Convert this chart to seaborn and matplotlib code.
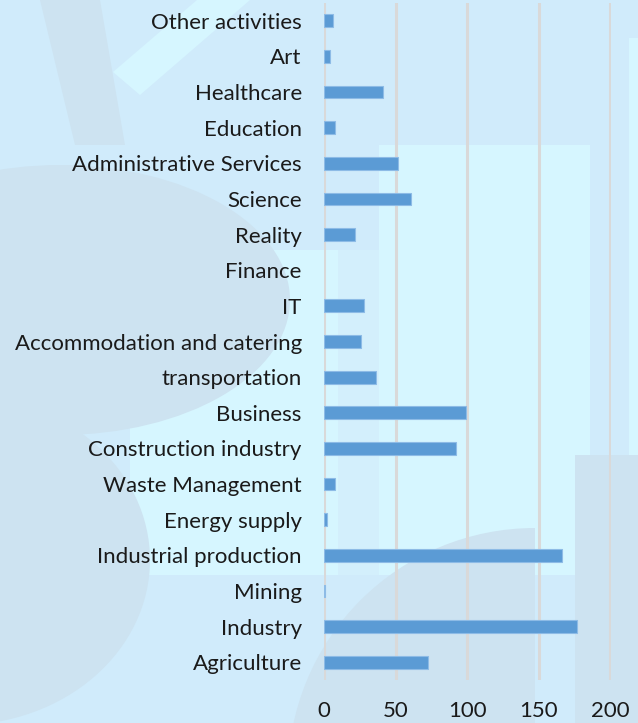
import matplotlib
matplotlib.use("Agg")
import matplotlib.pyplot as plt
import matplotlib.patches as mpatches
import seaborn as sns
import pandas as pd

# Sector values, listed top to bottom as drawn
sectors = [
    "Other activities", "Art", "Healthcare", "Education",
    "Administrative Services", "Science", "Reality", "Finance", "IT",
    "Accommodation and catering", "transportation", "Business",
    "Construction industry", "Waste Management", "Energy supply",
    "Industrial production", "Mining", "Industry", "Agriculture",
]
counts = [6, 4, 41, 8, 52, 61, 22, 0, 28, 26, 36, 99, 92, 8, 2, 166, 0.5, 177, 73]
x_ticks = [0, 50, 100, 150, 200]

df = pd.DataFrame({"sector": sectors, "count": counts})

sns.set_theme(style="white")
plt.rcParams["font.family"] = ["Lato", "DejaVu Sans"]

W, H = 638, 723
fig = plt.figure(figsize=(W / 100, H / 100), dpi=100)
fig.patch.set_facecolor("#d0ebfb")

# Decorative backdrop drawn in pixel space
bg = fig.add_axes([0, 0, 1, 1], zorder=0)
bg.set_xlim(0, W)
bg.set_ylim(H, 0)
bg.axis("off")
light = "#d6f6ff"
dark = "#cde3f1"
bg.add_patch(mpatches.Polygon([(379, 145), (590, 145), (590, 455), (575, 455), (575, 575),
                               (130, 575), (130, 250), (379, 250)],
                              closed=True, color=light, lw=0))
bg.add_patch(mpatches.Polygon([(113, 72), (197, 0), (250, 0), (140, 95)],
                              closed=True, color=light, lw=0))
bg.add_patch(mpatches.Rectangle((629, 38), 9, 530, color=light, lw=0))
bg.add_patch(mpatches.Rectangle((338, 250), 41, 325, color="#d3effc", lw=0))
bg.add_patch(mpatches.Ellipse((60, 300), 460, 270, color=dark, lw=0))
bg.add_patch(mpatches.Ellipse((-40, 560), 380, 330, color=dark, lw=0))
bg.add_patch(mpatches.Polygon([(40, 0), (100, 0), (125, 145), (75, 145)],
                              closed=True, color=dark, lw=0))
circ = mpatches.Circle((535, 775), 247, color=dark, lw=0)
bg.add_patch(circ)
circ.set_clip_path(mpatches.Rectangle((0, 0), 535, H, transform=bg.transData))
bg.add_patch(mpatches.Rectangle((575, 455), 63, 268, color=dark, lw=0))

ax = fig.add_axes([324 / W, 1 - 680 / H, (611 - 324) / W, (680 - 3) / H], zorder=1)
ax.patch.set_alpha(0)

sns.barplot(data=df, y="sector", x="count", orient="h", ax=ax,
            color="#5b9bd5", width=0.36, saturation=1,
            edgecolor="#8dbbe6", linewidth=0.8, zorder=3)
for bar in ax.patches:
    if bar.get_width() == 0:
        bar.set_linewidth(0)

ax.set_xlim(0, 200.5)
ax.set_xticks(x_ticks)
ax.set_xticklabels([str(t) for t in x_ticks])
ax.xaxis.grid(True, color="#d9d9d9", linewidth=2.2, zorder=0)
ax.yaxis.grid(False)
ax.set_axisbelow(True)
for s in ax.spines.values():
    s.set_visible(False)
ax.set_xlabel("")
ax.set_ylabel("")
ax.tick_params(axis="y", length=0, pad=16, labelsize=16, labelcolor="#1a1a1a")
ax.tick_params(axis="x", length=0, pad=15, labelsize=16, labelcolor="#1a1a1a")

fig.savefig("out.png", dpi=100, facecolor=fig.get_facecolor())
